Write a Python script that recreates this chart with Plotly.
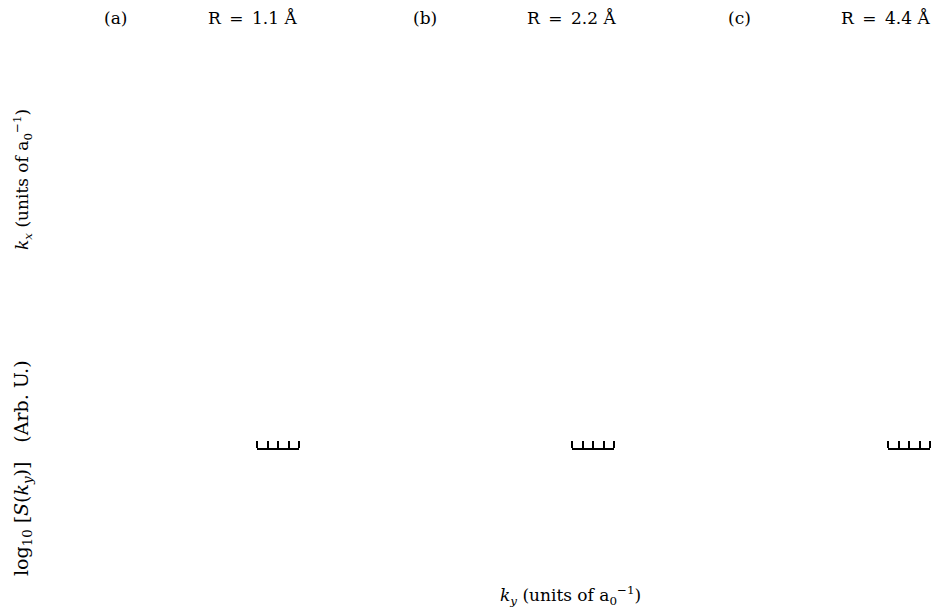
"""
Momentum-space panels for three bond lengths (axes collapsed, only bottom ticks visible)
"""

import plotly.graph_objects as go

panel_labels = ["(a)", "(b)", "(c)"]
bond_lengths = ["1.1", "2.2", "4.4"]
tick_vals = [0, 1, 2, 3, 4]

W, H = 935, 615
FONT = "DejaVu Serif"

# pixel positions
label_x = [115, 425, 739]
r_x = [252, 571, 885]
axis_px = [(257, 299), (572, 614), (888, 930)]
axis_y = 450

fig = go.Figure()

for i, (x0, x1) in enumerate(axis_px):
    n = "" if i == 0 else str(i + 1)
    fig.add_trace(go.Scatter(x=[None], y=[None], xaxis="x" + n, yaxis="y" + n,
                             showlegend=False, hoverinfo="skip"))
    # axis line on the "top" side so the outside ticks point upward
    fig.update_layout(**{
        "xaxis" + n: dict(domain=[x0 / W, x1 / W], side="top",
                          range=[tick_vals[0], tick_vals[-1]],
                          tickvals=tick_vals, showticklabels=False, ticks="outside",
                          ticklen=7, tickwidth=1.5, tickcolor="black",
                          showline=True, linecolor="black", linewidth=1.5,
                          showgrid=False, zeroline=False, anchor="y" + n),
        "yaxis" + n: dict(domain=[1 - (axis_y + 1) / H, 1 - axis_y / H], visible=False,
                          anchor="x" + n),
    })

sp = "\u2002"
ann = []
for i in range(3):
    ann.append(dict(text=panel_labels[i], x=label_x[i] / W, y=1 - 18 / H))
    ann.append(dict(text="R" + sp + "=" + sp + bond_lengths[i] + " Å", x=r_x[i] / W, y=1 - 18 / H))

ann.append(dict(text="<i>k<sub>x</sub></i> (units of a<sub>0</sub><sup>−1</sup>)",
                x=22 / W, y=1 - 180 / H, textangle=-90))
ann.append(dict(text="log<sub>10</sub> [<i>S</i>(<i>k<sub>y</sub></i>)]" + sp * 2 + "(Arb. U.)",
                x=22 / W, y=1 - 468 / H, textangle=-90, size=19))
ann.append(dict(text="<i>k<sub>y</sub></i> (units of a<sub>0</sub><sup>−1</sup>)",
                x=570 / W, y=1 - 595 / H))

for a in ann:
    size = a.pop("size", 17)
    a.update(xref="paper", yref="paper", showarrow=False, xanchor="center",
             yanchor="middle", font=dict(family=FONT, size=size, color="black"))

fig.update_layout(width=W, height=H, margin=dict(l=0, r=0, t=0, b=0),
                  paper_bgcolor="white", plot_bgcolor="white",
                  annotations=ann)

# the page body has a default 8px margin; remove it so the figure fills the window
fig.write_html("out.html", config={"displayModeBar": False},
               post_script="document.body.style.margin='0';")
